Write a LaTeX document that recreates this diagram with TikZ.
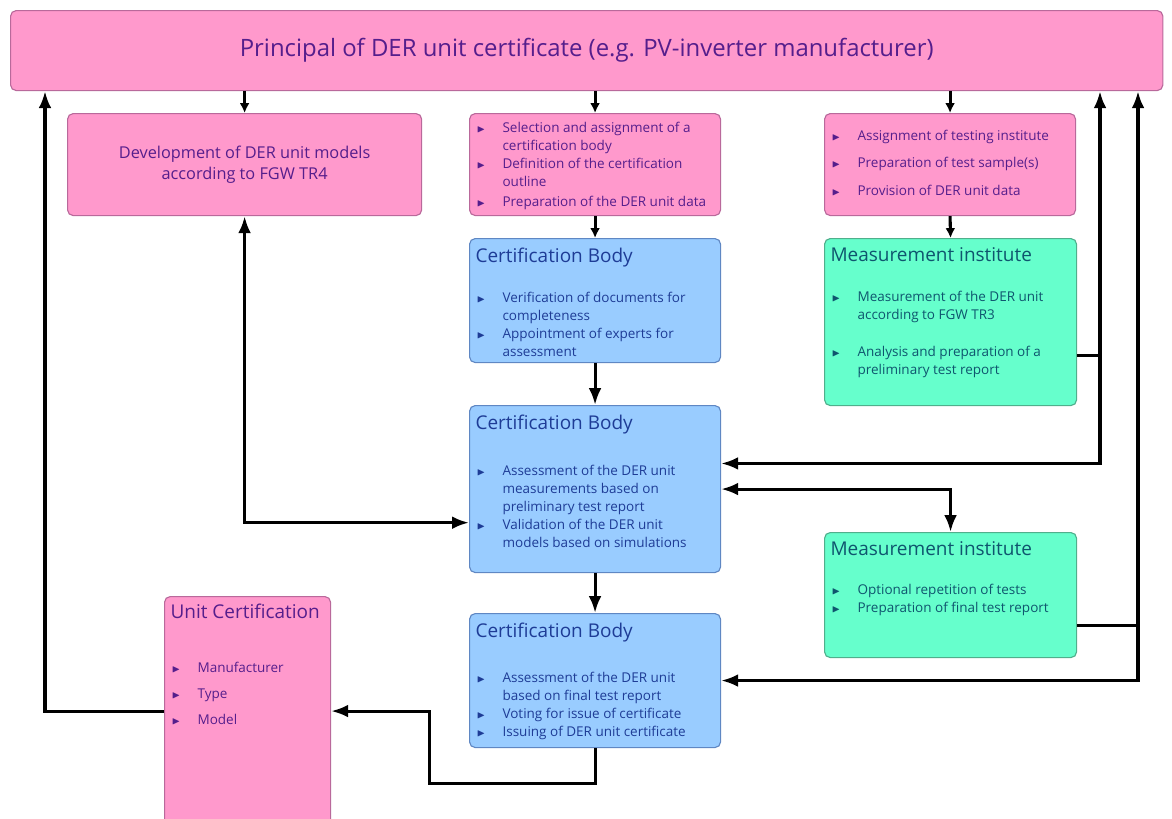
\documentclass[tikz,border=0pt]{standalone}
\usepackage{amssymb}
\usepackage{fontspec}
\setmainfont{Open Sans}
\usetikzlibrary{arrows.meta, positioning}

\definecolor{pinkfill}{RGB}{255,153,204}
\definecolor{pinkline}{RGB}{185,105,155}
\definecolor{pinktext}{RGB}{85,30,140}
\definecolor{bluefill}{RGB}{153,204,255}
\definecolor{blueline}{RGB}{95,135,195}
\definecolor{bluetext}{RGB}{30,60,150}
\definecolor{greenfill}{RGB}{102,255,204}
\definecolor{greenline}{RGB}{80,175,140}
\definecolor{greentext}{RGB}{15,85,110}

% one pixel of the 1172 x 818 layout
\newlength{\px}\setlength{\px}{0.025cm}
\newcommand{\boxbody}[3]{\parbox[c][\dimexpr #2\px-0.2cm\relax][t]{\dimexpr #1\px-0.3cm\relax}{\raggedright\fontsize{9.6}{12.8}\selectfont #3}}
\newcommand{\itm}[1]{\par\hangindent=2em\hangafter=1\noindent\makebox[2em][l]{\hspace{0.1em}\scalebox{0.8}{$\blacktriangleright$}}#1\par}
\newcommand{\hd}[1]{{\fontsize{13.5}{16}\selectfont #1\par}}

\begin{document}
\begin{tikzpicture}[x=0.025cm, y=-0.025cm, box/.style={rounded corners=4pt, line width=0.8pt, anchor=north west, inner xsep=0.15cm, inner ysep=0.1cm}, pinkbox/.style={box, draw=pinkline, fill=pinkfill, text=pinktext}, bluebox/.style={box, draw=blueline, fill=bluefill, text=bluetext}, greenbox/.style={box, draw=greenline, fill=greenfill, text=greentext}, arr/.style={-{Latex[length=12pt, width=9pt]}, line width=2.2pt, black}, sarr/.style={-{Latex[length=7pt, width=7pt]}, line width=2.2pt, black}, both/.style={{Latex[length=12pt, width=9pt]}-{Latex[length=12pt, width=9pt]}, line width=2.2pt, black}]

    \useasboundingbox (0,0) rectangle (1172,818);

    % ---------------------------------------------------------------
    % Principal
    % ---------------------------------------------------------------
    \node[pinkbox, minimum width=28.8cm, minimum height=2cm, font=\fontsize{17}{20}\selectfont] (banner) at (10,10) {Principal of DER unit certificate (e.g. PV-inverter manufacturer)};

    % ---------------------------------------------------------------
    % Row of tasks of the principal
    % ---------------------------------------------------------------
    \node[pinkbox, minimum width=8.85cm, minimum height=2.55cm, align=center, font=\fontsize{11.6}{15}\selectfont] (dev) at (67,113) {Development of DER unit models\\according to FGW TR4};

    \node[pinkbox] (sel) at (469,113) {\boxbody{251}{102}{\vspace{5\px}\itm{Selection and assignment of a\newline certification body}\itm{Definition of the certification\newline outline}\vspace{2\px}\itm{Preparation of the DER unit data}}};

    \node[pinkbox] (asg) at (824,113) {\boxbody{251}{102}{\vspace{13\px}\itm{Assignment of testing institute}\vspace{9\px}\itm{Preparation of test sample(s)}\vspace{10\px}\itm{Provision of DER unit data}}};

    % ---------------------------------------------------------------
    % Certification body and measurement institute
    % ---------------------------------------------------------------
    \node[bluebox] (cb1) at (469,238) {\boxbody{251}{124}{\vspace{5\px}\hd{Certification Body}\vspace{22\px}\itm{Verification of documents for\newline completeness}\itm{Appointment of experts for\newline assessment}}};

    \node[greenbox] (mi1) at (824,238) {\boxbody{252}{167}{\vspace{5\px}\hd{Measurement institute}\vspace{22\px}\itm{Measurement of the DER unit\newline according to FGW TR3}\vspace{19\px}\itm{Analysis and preparation of a\newline preliminary test report}}};

    \node[bluebox] (cb2) at (469,405) {\boxbody{251}{167}{\vspace{5\px}\hd{Certification Body}\vspace{28\px}\itm{Assessment of the DER unit\newline measurements based on\newline preliminary test report}\itm{Validation of the DER unit\newline models based on simulations}}};

    \node[greenbox] (mi2) at (824,532) {\boxbody{252}{125}{\vspace{5\px}\hd{Measurement institute}\vspace{21\px}\itm{Optional repetition of tests}\itm{Preparation of final test report}}};

    \node[bluebox] (cb3) at (469,613) {\boxbody{251}{134}{\vspace{5\px}\hd{Certification Body}\vspace{27\px}\itm{Assessment of the DER unit\newline based on final test report}\itm{Voting for issue of certificate}\itm{Issuing of DER unit certificate}}};

    \node[pinkbox] (unit) at (164,596) {\boxbody{166}{229}{\vspace{3\px}\hd{Unit Certification}\vspace{36\px}\itm{Manufacturer}\vspace{8\px}\itm{Type}\vspace{8\px}\itm{Model}}};

    % ---------------------------------------------------------------
    % Ports and trunks
    % ---------------------------------------------------------------
    \coordinate (trunkL) at (45,0);
    \coordinate (trunkA) at (1100,0);
    \coordinate (trunkB) at (1138,0);
    \coordinate (mi1out) at ([yshift=-0.84cm]mi1.east);
    \coordinate (mi2out) at ([yshift=-0.76cm]mi2.east);
    \coordinate (cb2in) at ([yshift=0.64cm]cb2.east);
    \coordinate (cb2left) at ([yshift=-0.84cm]cb2.west);

    % ---------------------------------------------------------------
    % Connectors
    % ---------------------------------------------------------------
    \draw[sarr] (banner.south -| dev.north) -- (dev.north);
    \draw[sarr] (banner.south -| sel.north) -- (sel.north);
    \draw[sarr] (banner.south -| asg.north) -- (asg.north);
    \draw[sarr] (sel.south) -- (cb1.north);
    \draw[sarr] (asg.south) -- (mi1.north);
    \draw[arr] (cb1.south) -- (cb2.north);
    \draw[arr] (cb2.south) -- (cb3.north);

    \draw[both] (dev.south) |- (cb2left);
    \draw[both] (cb2.east) -| (mi2.north);

    \draw[arr] (mi1out) -| (trunkA |- banner.south);
    \draw[arr] (mi1out) -| (trunkA |- cb2in) -- (cb2in);
    \draw[arr] (mi2out) -| (trunkB |- banner.south);
    \draw[arr] (mi2out) -| (trunkB |- cb3.east) -- (cb3.east);

    \draw[arr] (cb3.south) -- ++(0,35) -- ++(-166,0) |- (unit.east);
    \draw[arr] (unit.west) -| (trunkL |- banner.south);

\end{tikzpicture}
\end{document}
